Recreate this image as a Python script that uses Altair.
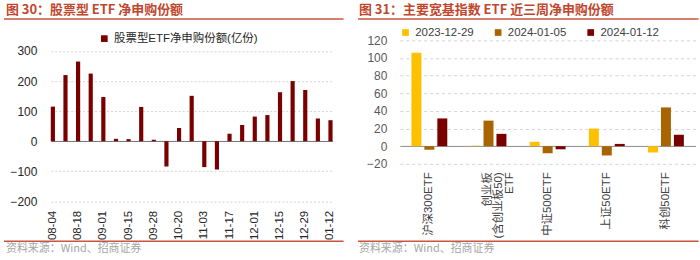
import altair as alt
import pandas as pd

# ---------------- data ----------------
weeks = ["08-04", "08-11", "08-18", "08-25", "09-01", "09-08", "09-15", "09-22",
         "09-28", "10-13", "10-20", "10-27", "11-03", "11-10", "11-17", "11-24",
         "12-01", "12-08", "12-15", "12-22", "12-29", "01-05", "01-12"]
net_sub = [115, 220, 265, 225, 147, 8, 7, 114, 5, -84, 44, 151, -86, -94, 25, 54,
           82, 87, 163, 200, 170, 76, 70]
left_series = "股票型ETF净申购份额(亿份)"
left_ticks = [-200, -100, 0, 100, 200, 300]

etf_names = ["沪深300ETF", "创业板(含创业板50)ETF", "中证500ETF", "上证50ETF", "科创50ETF"]
dates = ["2023-12-29", "2024-01-05", "2024-01-12"]
w1229 = [106, 0.5, 5, 20, -7]
w0105 = [-4, 29, -8, -10.5, 44]
w0112 = [31.5, 14, -3.5, 2.6, 13]
right_ticks = [-20, 0, 20, 40, 60, 80, 100, 120]

title_left = "图 30：股票型 ETF 净申购份额"
title_right = "图 31：主要宽基指数 ETF 近三周净申购份额"
source_text = "资料来源：Wind、招商证券"

# ---------------- style ----------------
FONT = "Liberation Sans, Noto Sans CJK SC"
CJK = "Noto Sans CJK SC"
TITLE_COLOR = "#C0472E"
LINE_COLOR = "#C8553D"
DARK_RED = "#7a0000"
BROWN = "#A86400"
YELLOW = "#FFC000"

one = pd.DataFrame({"d": [0]})


def grid_color(zero_col):
    return {"condition": {"test": "datum.value === 0", "value": zero_col},
            "value": "#d4d4d4"}


def grid_dash(dash):
    return {"condition": {"test": "datum.value === 0", "value": []},
            "value": dash}


def decor(tx, ttext, rx1, rx2):
    title = alt.Chart(one).mark_text(
        align="left", baseline="middle", font=CJK, fontSize=13,
        fontWeight="bold", color=TITLE_COLOR, text=ttext
    ).encode(x=alt.value(tx), y=alt.value(-30))
    r1 = alt.Chart(one).mark_rule(color=LINE_COLOR, strokeWidth=1.5).encode(
        x=alt.value(rx1), x2=alt.value(rx2), y=alt.value(-21.5))
    r2 = alt.Chart(one).mark_rule(color=LINE_COLOR, strokeWidth=1.5).encode(
        x=alt.value(rx1), x2=alt.value(rx2), y=alt.value(201.7))
    foot = alt.Chart(one).mark_text(
        align="left", baseline="middle", font=CJK, fontSize=11,
        color="#a6a6a6", text=source_text
    ).encode(x=alt.value(tx), y=alt.value(210))
    return [title, r1, r2, foot]


# ---------------- left chart ----------------
df_l = pd.DataFrame({"week": weeks, "value": net_sub, "series": left_series})
bars_l = alt.Chart(df_l).mark_bar().encode(
    x=alt.X("week:N", sort=weeks,
            scale=alt.Scale(paddingInner=0.67, paddingOuter=0),
            axis=alt.Axis(values=weeks[::2], labelAngle=270, labelAlign="right",
                          labelBaseline="middle", labelPadding=9, ticks=False,
                          tickSize=0, domain=False, title=None, grid=False,
                          labelOverlap=False,
                          labelFontSize=11.5, labelColor="#262626")),
    y=alt.Y("value:Q", scale=alt.Scale(domain=[-200, 335.4], nice=False),
            axis=alt.Axis(values=left_ticks, grid=True,
                          gridDash=grid_dash([2, 2]),
                          gridColor=grid_color("#707070"),
                          domain=False, ticks=False,
                          tickSize=0, labelPadding=14, title=None,
                          labelOverlap=False,
                          labelFontSize=12, labelColor="#262626")),
    color=alt.Color("series:N", scale=alt.Scale(range=[DARK_RED]),
                    legend=alt.Legend(orient="none", legendX=48, legendY=-7.5,
                                      title=None, symbolType="square",
                                      symbolSize=45, symbolStrokeWidth=0,
                                      labelFontSize=11.5, labelColor="#262626",
                                      padding=0, labelOffset=4)),
)

left = alt.layer(
    bars_l,
    *decor(-45, title_left, -47, 294)
).properties(width=283, height=161.7)

# ---------------- right chart ----------------
rows = []
for i, name in enumerate(etf_names):
    for d, vals in zip(dates, [w1229, w0105, w0112]):
        rows.append({"etf": name, "date": d, "value": vals[i]})
df_r = pd.DataFrame(rows)

label_expr = ("datum.value == '创业板(含创业板50)ETF' ? "
              "['创业板', '(含创业板50)', 'ETF'] : datum.label")

bars_r = alt.Chart(df_r).mark_bar().encode(
    x=alt.X("etf:N", sort=etf_names,
            scale=alt.Scale(paddingInner=0, paddingOuter=0),
            axis=alt.Axis(labelAngle=270, labelAlign="right",
                          labelBaseline="middle", labelPadding=8, ticks=False,
                          tickSize=0, domain=False, title=None, grid=False,
                          labelOverlap=False,
                          labelExpr=label_expr, labelLineHeight=11,
                          labelFontSize=11.5, labelColor="#404040")),
    xOffset=alt.XOffset("date:N", sort=dates,
                        scale=alt.Scale(paddingInner=0.23, paddingOuter=0.9)),
    y=alt.Y("value:Q", scale=alt.Scale(domain=[-20, 120], nice=False),
            axis=alt.Axis(values=right_ticks, grid=True,
                          gridDash=grid_dash([3, 3]),
                          gridColor=grid_color("#8c8c8c"),
                          domain=False, ticks=False,
                          tickSize=0, labelPadding=13, title=None,
                          labelOverlap=False,
                          labelFontSize=12, labelColor="#595959")),
    color=alt.Color("date:N", sort=dates,
                    scale=alt.Scale(domain=dates, range=[YELLOW, BROWN, DARK_RED]),
                    legend=alt.Legend(orient="none", legendX=0, legendY=-14,
                                      direction="horizontal", columns=3,
                                      title=None, symbolType="square",
                                      symbolSize=45, symbolStrokeWidth=0,
                                      labelFontSize=11.5, labelColor="#404040",
                                      columnPadding=18, padding=0, labelOffset=4)),
)

right = alt.layer(
    bars_r,
    *decor(-41, title_right, -42, 300)
).properties(width=297, height=124)

chart = alt.hconcat(left, right, spacing=12.5).resolve_scale(
    x="independent", y="independent", color="independent"
).resolve_legend(color="independent").properties(
    padding={"left": 3, "top": 4, "right": 0, "bottom": 0}
).configure_view(strokeWidth=0).configure_axis(
    labelFont=FONT
).configure_legend(labelFont=FONT)

chart.save("out.html", embed_options={"renderer": "svg", "actions": False})
